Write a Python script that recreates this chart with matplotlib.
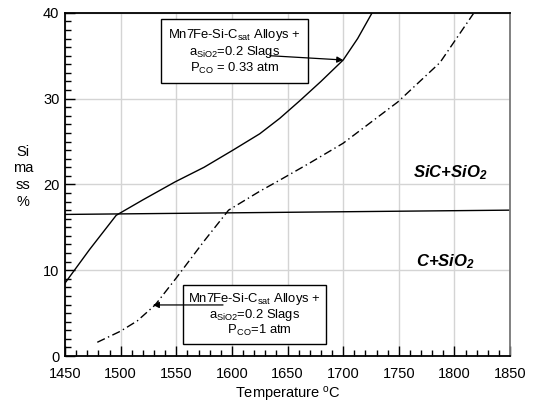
import matplotlib
matplotlib.use("Agg")
import matplotlib.pyplot as plt
from matplotlib.ticker import MultipleLocator

plt.rcParams['font.family'] = ['Liberation Sans', 'DejaVu Sans']
plt.rcParams['mathtext.fontset'] = 'custom'
plt.rcParams['mathtext.rm'] = 'Liberation Sans'
plt.rcParams['mathtext.it'] = 'Liberation Sans:italic'
plt.rcParams['mathtext.bf'] = 'Liberation Sans:bold:italic'
plt.rcParams['mathtext.default'] = 'regular'

# Pco = 0.33 atm curve
t_033 = [1450, 1472, 1496, 1520, 1549, 1575, 1601, 1625, 1643, 1661, 1680, 1700, 1713, 1726]
si_033 = [8.5, 12.4, 16.4, 18.2, 20.3, 22.0, 24.0, 25.9, 27.7, 29.75, 32.0, 34.5, 37.0, 40.0]

# Pco = 1 atm curve
t_1 = [1479, 1500, 1515, 1531, 1550, 1575, 1597, 1625, 1643, 1670, 1700, 1749, 1787, 1817]
si_1 = [1.6, 2.9, 4.1, 5.95, 9.1, 13.4, 17.0, 19.2, 20.5, 22.5, 24.8, 29.6, 34.2, 39.9]

# SiC / C boundary
t_b = [1450, 1850]
si_b = [16.5, 17.0]

xticks = [1450, 1500, 1550, 1600, 1650, 1700, 1750, 1800, 1850]
yticks = [0, 10, 20, 30, 40]

fig = plt.figure(figsize=(5.33, 4.13), dpi=100)
ax = fig.add_axes([0.122, 0.138, 0.835, 0.831])

ax.plot(t_033, si_033, color='black', lw=1.0)
ax.plot(t_1, si_1, color='black', lw=1.0, dashes=(6, 2.5, 1, 2.5))
ax.plot(t_b, si_b, color='black', lw=1.0)

ax.set_xlim(1450, 1850)
ax.set_ylim(0, 40)
ax.set_xticks(xticks)
ax.set_yticks(yticks)
ax.xaxis.set_minor_locator(MultipleLocator(10))
ax.yaxis.set_minor_locator(MultipleLocator(1))
ax.tick_params(which='both', direction='in', top=False, right=False, labelsize=10.5, width=1)
ax.tick_params(which='major', length=7)
ax.tick_params(which='minor', length=4)
ax.tick_params(axis='x', which='major', pad=8)
ax.tick_params(axis='y', which='major', pad=4)
ax.grid(True, which='major', color='#d4d4d4', lw=1)
ax.set_axisbelow(True)
for s in ['left', 'bottom', 'top']:
    ax.spines[s].set_linewidth(1.3)
    ax.spines[s].set_color('black')
ax.spines['right'].set_color('#777777')
ax.spines['right'].set_linewidth(1.3)

ax.set_xlabel(r'Temperature$\;^{o}$C', fontsize=10.5, labelpad=3)
fig.text(0.043, 0.572, 'Si\nma\nss\n%', ha='center', va='center', fontsize=10.5, linespacing=1.25)

line1 = 'Mn$\\hspace{0.06}$7Fe-Si-C$_{sat}$ Alloys +'
line2 = 'a$_{SiO2}$=0.2 Slags'
box = dict(boxstyle='square,pad=0.55', fc='white', ec='black', lw=1)
ax.text(1602, 35.5, line1 + '\n' + line2 + '\nP$_{CO}$ = 0.33 atm',
        ha='center', va='center', fontsize=9.4, bbox=box, linespacing=1.1, zorder=5)
ax.text(1620, 4.8, line1 + '\n' + line2 + '\n   P$_{CO}$=1 atm',
        ha='center', va='center', fontsize=9.4,
        bbox=dict(boxstyle='square,pad=0.4', fc='white', ec='black', lw=1),
        linespacing=1.0, zorder=5)

arrow = dict(arrowstyle='-|>', color='black', lw=0.9, mutation_scale=9, shrinkA=0, shrinkB=0)
ax.annotate('', xy=(1700, 34.5), xytext=(1634, 35.0), arrowprops=arrow, zorder=6)
ax.annotate('', xy=(1529, 5.95), xytext=(1592, 5.95), arrowprops=arrow, zorder=6)

ax.text(1796, 21.4, r'$\mathbf{SiC{+}SiO}_{\mathbf{2}}$', ha='center', va='center', fontsize=12)
ax.text(1792, 11.0, r'$\mathbf{C{+}SiO}_{\mathbf{2}}$', ha='center', va='center', fontsize=12)

fig.savefig('out.png', dpi=100)
